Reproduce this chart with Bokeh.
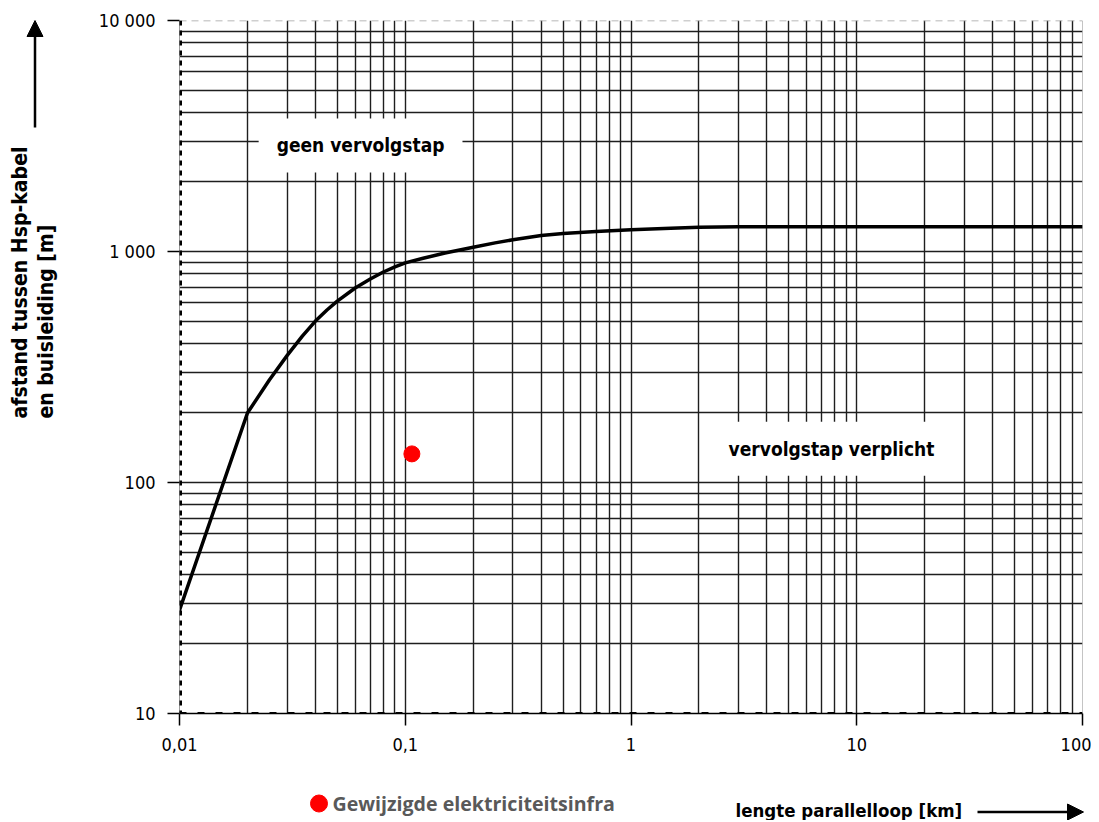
import math
from bokeh.plotting import figure
from bokeh.layouts import column, row
from bokeh.models import (FixedTicker, Span, Label, Arrow, NormalHead, Range1d)
from bokeh.core.properties import value
from bokeh.embed import file_html
from bokeh.resources import INLINE

# ---- data ----
curve_x = [0.01, 0.02, 0.025, 0.03, 0.035, 0.04, 0.045, 0.05, 0.06, 0.07,
           0.08, 0.09, 0.1, 0.12, 0.15, 0.2, 0.25, 0.3, 0.4, 0.5, 0.7, 1,
           1.5, 2, 3, 10, 100]
curve_y = [28, 200, 278, 355, 430, 500, 558, 610, 695, 760,
           815, 858, 893, 935, 985, 1044, 1090, 1124, 1172, 1197, 1221, 1243,
           1260, 1272, 1280, 1280, 1280]

point_x = [0.107]
point_y = [133]
point_label = "Gewijzigde elektriciteitsinfra"

x_ticks = [0.01, 0.1, 1, 10, 100]
x_tick_labels = ["0,01", "0,1", "1", "10", "100"]
y_ticks = [10, 100, 1000, 10000]
y_tick_labels = ["10", "100", "1 000", "10 000"]

y_title_1 = "afstand tussen Hsp-kabel"
y_title_2 = "en buisleiding [m]"
x_title = "lengte parallelloop [km]"
region_top = "geen vervolgstap"
region_bottom = "vervolgstap verplicht"

FONT = "DejaVu Sans Condensed"

# ---- sizes (pixels) ----
TOTAL_W = 1091
LEFT_W = 62
MAIN_H = 758
BOTTOM_H = 62
PAGE_BOTTOM = MAIN_H + BOTTOM_H
FRAME_TOP = 20
FRAME_BOTTOM = 713


def strip(width, height, y0, y1):
    f = figure(width=width, height=height, x_range=Range1d(0, width),
               y_range=Range1d(y0, y1), output_backend="svg",
               toolbar_location=None, x_axis_location=None,
               y_axis_location=None, title=None, min_border=0,
               min_border_left=0, min_border_right=0, min_border_top=0,
               min_border_bottom=0)
    f.outline_line_color = None
    f.xgrid.visible = False
    f.ygrid.visible = False
    f.background_fill_color = "white"
    f.border_fill_color = "white"
    return f


# ---- main chart ----
p = figure(width=TOTAL_W - LEFT_W, height=MAIN_H, x_axis_type="log",
           y_axis_type="log", x_range=Range1d(0.01, 100),
           y_range=Range1d(10, 10000), output_backend="svg", title=None,
           toolbar_location=None, min_border_left=179 - LEFT_W,
           min_border_right=9, min_border_top=FRAME_TOP,
           min_border_bottom=MAIN_H - FRAME_BOTTOM)
p.outline_line_color = None
p.background_fill_color = "white"
p.border_fill_color = "white"

p.xaxis.ticker = FixedTicker(ticks=x_ticks, minor_ticks=[])
p.yaxis.ticker = FixedTicker(ticks=y_ticks, minor_ticks=[])
p.xaxis.major_label_overrides = {float(t): l for t, l in zip(x_ticks, x_tick_labels)}
p.yaxis.major_label_overrides = {float(t): l for t, l in zip(y_ticks, y_tick_labels)}
for ax in (p.xaxis[0], p.yaxis[0]):
    ax.major_tick_out = 12
    ax.major_tick_in = 0
    ax.major_tick_line_width = 1.5
    ax.major_tick_line_color = "black"
    ax.minor_tick_line_color = None
    ax.major_label_text_font = FONT
    ax.major_label_text_font_size = "18px"
    ax.major_label_text_color = "black"
    ax.major_label_standoff = 12
p.xaxis.axis_line_color = "black"
p.xaxis.axis_line_width = 1.5
p.yaxis.axis_line_color = "#9a9a9a"
p.yaxis.axis_line_width = 1

x_minor = [m * 10.0 ** e for e in range(-2, 2) for m in range(2, 10)]
y_minor = [m * 10.0 ** e for e in range(1, 4) for m in range(2, 10)]
p.xgrid[0].ticker = FixedTicker(ticks=[0.1, 1, 10], minor_ticks=x_minor)
p.ygrid[0].ticker = FixedTicker(ticks=[100, 1000], minor_ticks=y_minor)
for g in (p.xgrid[0], p.ygrid[0]):
    g.grid_line_color = "#1e1e1e"
    g.grid_line_width = 1.4
    g.minor_grid_line_color = "#1e1e1e"
    g.minor_grid_line_width = 1.4

p.add_layout(Span(location=10000, dimension="width", line_color="#a0a0a0",
                  line_width=1.5, line_dash="7 5"))
p.add_layout(Span(location=100, dimension="height", line_color="#8a8a8a",
                  line_width=1))
p.add_layout(Span(location=10, dimension="width", line_color="black",
                  line_width=3, line_dash="7 11"))
p.add_layout(Span(location=0.01, dimension="height", line_color="black",
                  line_width=5, line_dash="5 5"))

p.line(curve_x, curve_y, line_color="black", line_width=3.5,
       line_join="round", line_cap="round")
p.scatter(point_x, point_y, size=16, fill_color="#ff0000",
          line_color="#ff0000")

for txt, lx, ly in ((region_top, 0.0634, 2877), (region_bottom, 7.73, 140)):
    p.add_layout(Label(x=lx, y=ly, text=txt, text_align="center",
                       text_baseline="middle", text_font=FONT,
                       text_font_size="19px", text_font_style="bold",
                       text_color="black", background_fill_color="white",
                       padding=dict(left=18, right=18, top=16, bottom=16)))

# ---- left strip: y title and arrow (strip y = MAIN_H - page y);
# its frame is aligned with the main frame by the row layout ----
left = strip(LEFT_W, MAIN_H, MAIN_H - FRAME_BOTTOM, MAIN_H - FRAME_TOP)
left.text(x=[19, 45], y=[MAIN_H - 418, MAIN_H - 418],
          text=[y_title_1, y_title_2], angle=math.pi / 2,
          text_align="left", text_baseline="middle",
          text_font=value(FONT), text_font_size="21px",
          text_font_style="bold", text_color="black")
left.add_layout(Arrow(x_start=34.5, y_start=MAIN_H - 127, x_end=34.5,
                      y_end=MAIN_H - 20, line_width=2.5, line_color="black",
                      end=NormalHead(size=16, fill_color="black",
                                     line_color="black")))

# ---- bottom strip: legend, x title and arrow (strip y = 820 - page y) ----
bottom = strip(TOTAL_W, BOTTOM_H, 0, BOTTOM_H)
bottom.text(x=[735], y=[PAGE_BOTTOM - 810], text=[x_title],
            text_align="left", text_baseline="middle",
            text_font=value(FONT), text_font_size="18.5px",
            text_font_style="bold", text_color="black")
bottom.add_layout(Arrow(x_start=977, y_start=PAGE_BOTTOM - 811.5,
                        x_end=1083, y_end=PAGE_BOTTOM - 811.5,
                        line_width=2.5, line_color="black",
                        end=NormalHead(size=16, fill_color="black",
                                       line_color="black")))
# legend swatch and label
bottom.scatter(x=[318.5], y=[PAGE_BOTTOM - 803], size=17,
               fill_color="#ff0000", line_color="#ff0000")
bottom.text(x=[332], y=[PAGE_BOTTOM - 803], text=[point_label],
            text_align="left", text_baseline="middle",
            text_font=value("Open Sans"), text_font_size="19.6px",
            text_font_style="bold", text_color="#595959")

layout = column(row(left, p), bottom)
open("out.html", "w").write(file_html(layout, INLINE))
